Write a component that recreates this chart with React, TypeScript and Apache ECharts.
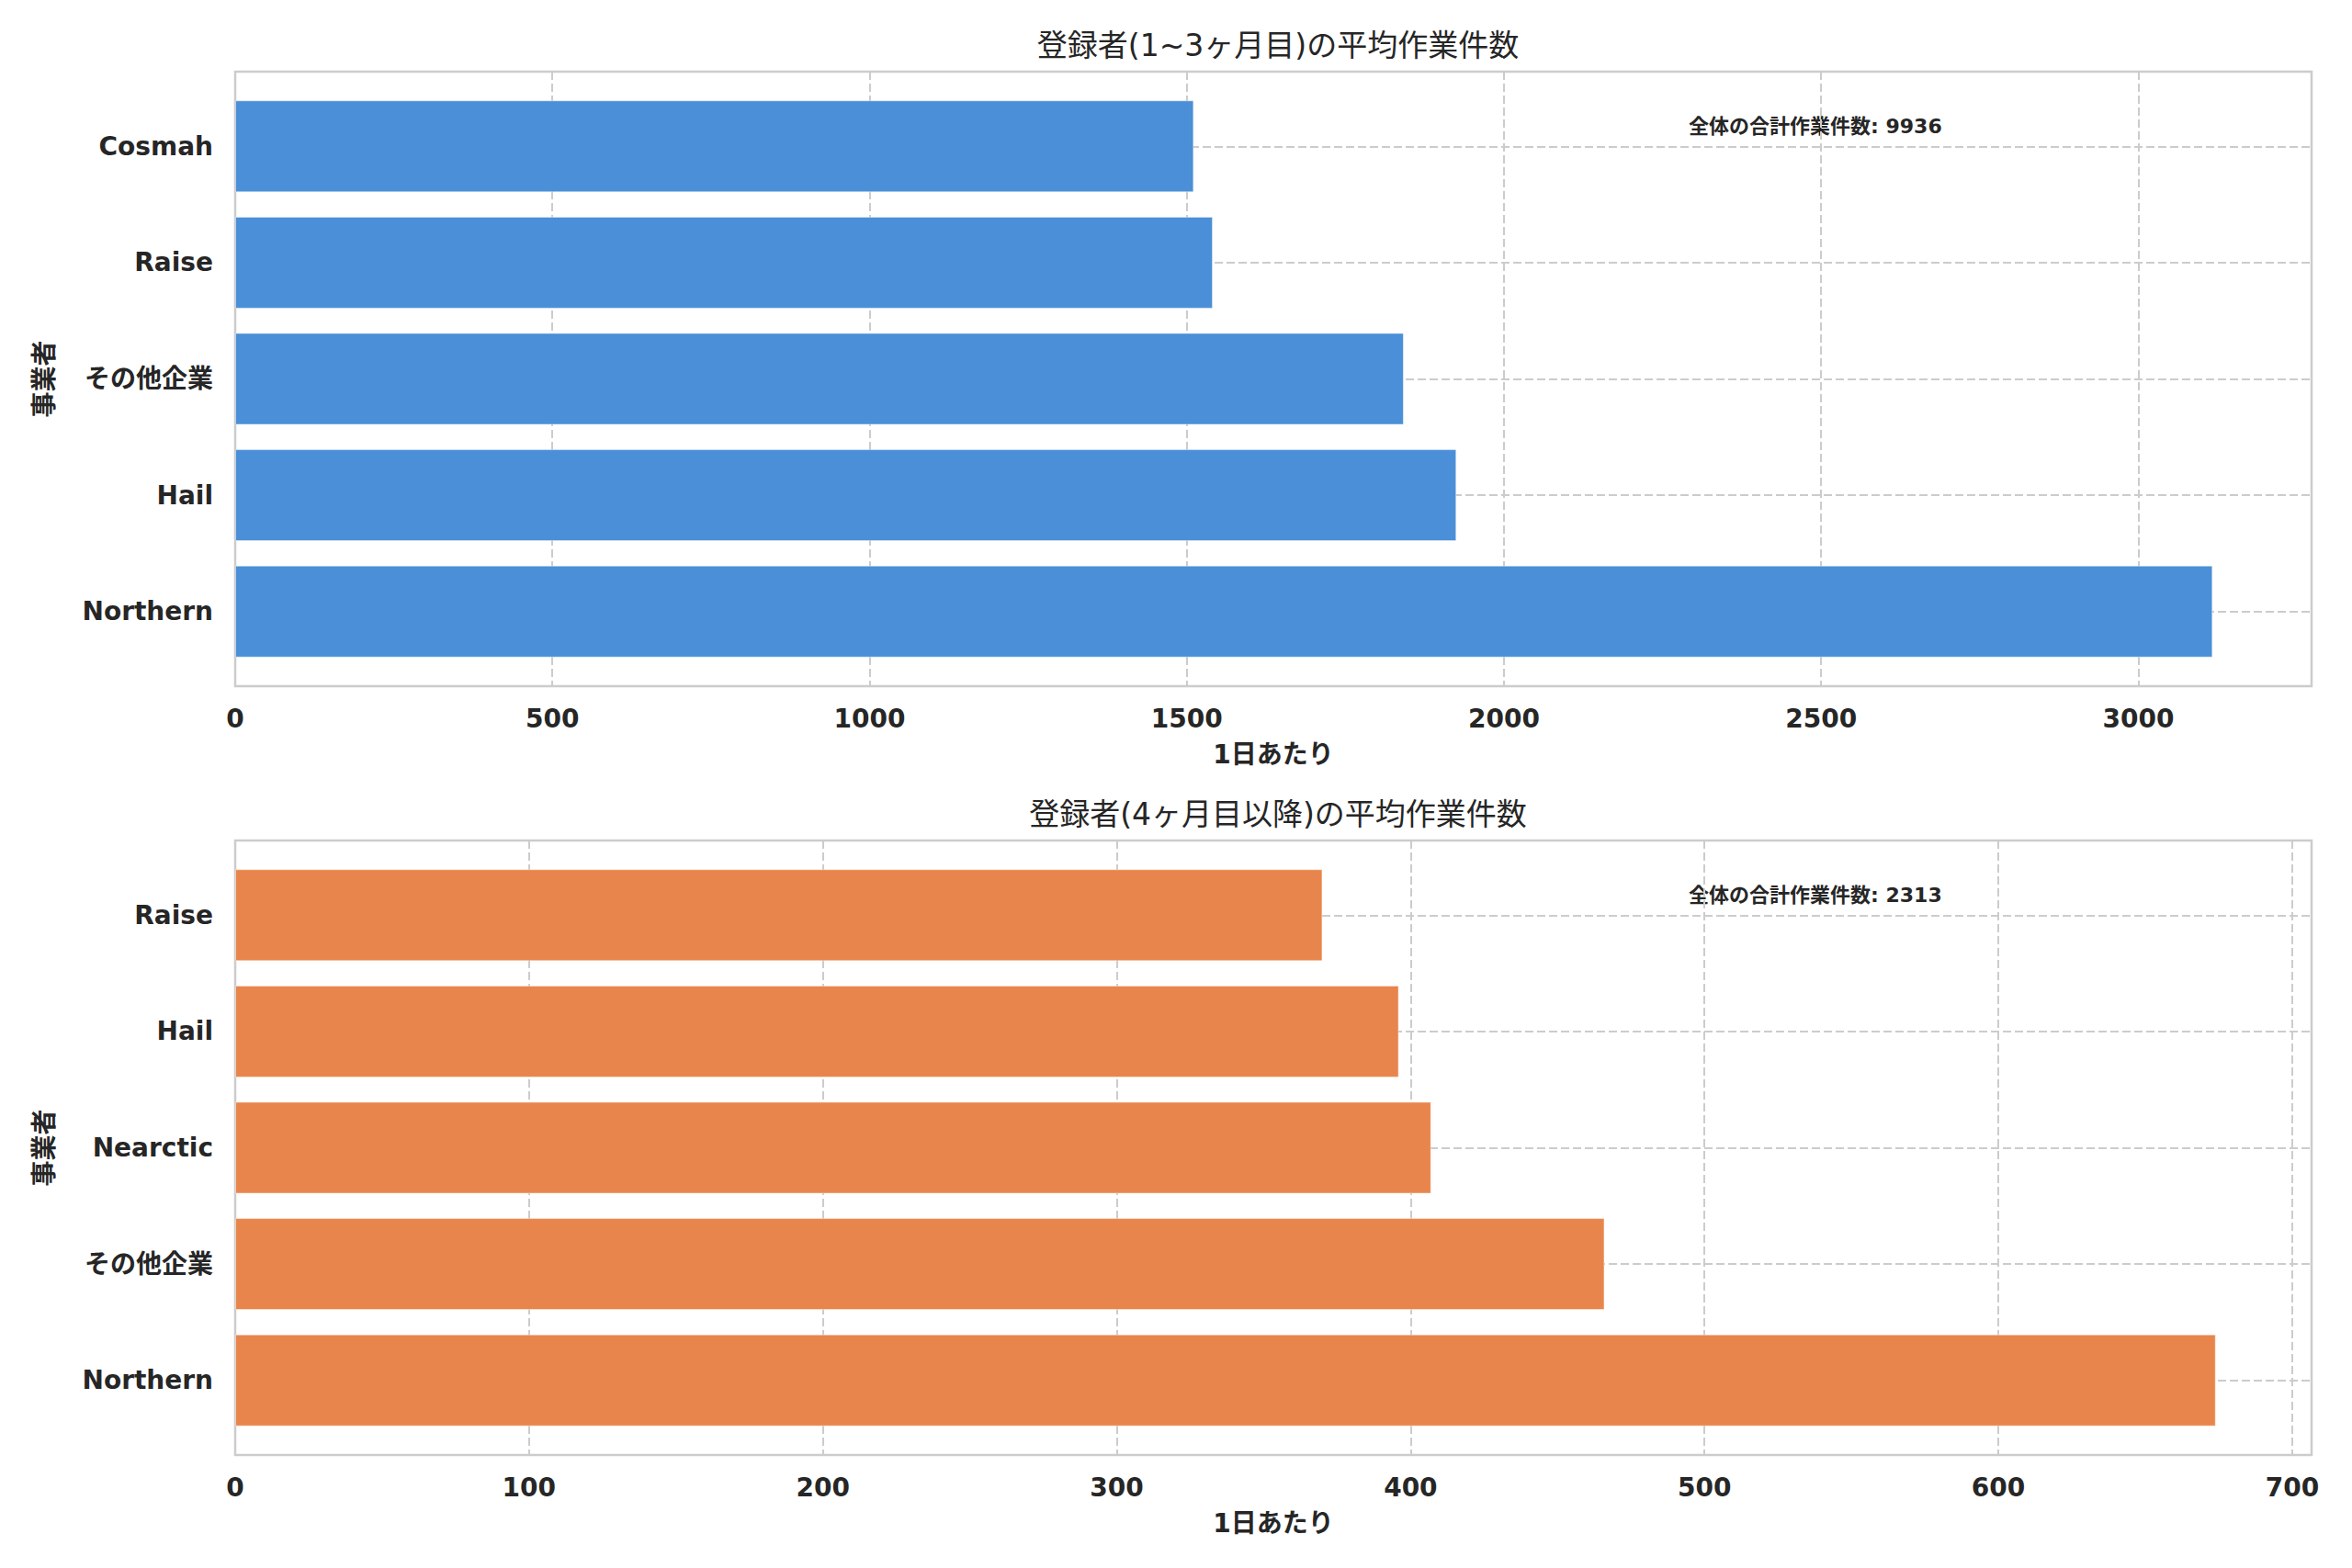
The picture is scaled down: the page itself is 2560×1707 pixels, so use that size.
import { useEffect, useRef } from 'react';
import * as echarts from 'echarts';

// top panel: first months
const earlyTitle = '登録者(1~3ヶ月目)の平均作業件数';
const earlyCategories = ['Northern', 'Hail', 'その他企業', 'Raise', 'Cosmah'];
const earlyValues = [3117, 1925, 1842, 1541, 1511];
const earlyTotal = 9936;
const earlyAxisMax = 3273;
const earlyTickStep = 500;

// bottom panel: month 4 onward
const lateTitle = '登録者(4ヶ月目以降)の平均作業件数';
const lateCategories = ['Northern', 'その他企業', 'Nearctic', 'Hail', 'Raise'];
const lateValues = [674, 466, 407, 396, 370];
const lateTotal = 2313;
const lateAxisMax = 706.6;
const lateTickStep = 100;

const xAxisName = '1日あたり';
const yAxisName = '事業者';
const totalLabel = '全体の合計作業件数';

const FONT = '"DejaVu Sans", "Noto Sans CJK JP", sans-serif';
const INK = '#262626';
const GRID_GRAY = '#cccccc';

const W = 2560;
const H = 1707;
const LEFT = 256;
const RIGHT = 44;
const FRAME_H = 669;
const INSET = 18;

type Panel = {
  title: string;
  categories: string[];
  values: number[];
  total: number;
  max: number;
  step: number;
  color: string;
  top: number;
};

const panels: Panel[] = [
  {
    title: earlyTitle,
    categories: earlyCategories,
    values: earlyValues,
    total: earlyTotal,
    max: earlyAxisMax,
    step: earlyTickStep,
    color: '#4a8fd7',
    top: 78,
  },
  {
    title: lateTitle,
    categories: lateCategories,
    values: lateValues,
    total: lateTotal,
    max: lateAxisMax,
    step: lateTickStep,
    color: '#e8854c',
    top: 915,
  },
];

function buildOption() {
  const grid: any[] = [];
  const xAxis: any[] = [];
  const yAxis: any[] = [];
  const series: any[] = [];
  const title: any[] = [];
  const graphic: any[] = [];

  panels.forEach((p, i) => {
    const outer = i * 2;
    const inner = i * 2 + 1;

    // outer grid: frame, x ticks, vertical dashed lines
    grid.push({
      left: LEFT,
      right: RIGHT,
      top: p.top,
      height: FRAME_H,
      show: true,
      borderColor: GRID_GRAY,
      borderWidth: 2.5,
      backgroundColor: 'transparent',
    });
    // inner grid: bars and category labels
    grid.push({
      left: LEFT,
      right: RIGHT,
      top: p.top + INSET,
      height: FRAME_H - INSET * 2,
    });

    xAxis.push({
      gridIndex: outer,
      type: 'value',
      min: 0,
      max: p.max,
      interval: p.step,
      axisLine: { show: false },
      axisTick: { show: false },
      axisLabel: {
        showMaxLabel: false,
        margin: 21,
        fontFamily: FONT,
        fontSize: 28,
        fontWeight: 'bold',
        color: INK,
        formatter: (v: number) => String(v),
      },
      splitLine: {
        show: true,
        lineStyle: { color: GRID_GRAY, width: 2, type: [9, 4] },
      },
      name: xAxisName,
      nameLocation: 'middle',
      nameGap: 60,
      nameMoveOverlap: false,
      nameTextStyle: {
        fontFamily: FONT,
        fontSize: 28,
        fontWeight: 'bold',
        color: INK,
      },
    });
    xAxis.push({
      gridIndex: inner,
      type: 'value',
      min: 0,
      max: p.max,
      show: false,
      splitLine: { show: false },
    });

    yAxis.push({
      gridIndex: outer,
      type: 'value',
      show: false,
      splitLine: { show: false },
    });
    yAxis.push({
      gridIndex: inner,
      type: 'category',
      data: p.categories,
      axisLine: { show: false },
      axisTick: { show: false },
      splitLine: { show: false },
      axisLabel: {
        margin: 24,
        fontFamily: FONT,
        fontSize: 28,
        fontWeight: 'bold',
        color: INK,
      },
      name: yAxisName,
      nameLocation: 'middle',
      nameRotate: 90,
      nameGap: 194,
      nameMoveOverlap: false,
      nameTextStyle: {
        fontFamily: FONT,
        fontSize: 28,
        fontWeight: 'bold',
        color: INK,
      },
    });

    series.push({
      type: 'bar',
      xAxisIndex: inner,
      yAxisIndex: inner,
      data: p.values,
      barWidth: '79%',
      itemStyle: {
        color: p.color,
        borderColor: 'rgba(255,255,255,0.45)',
        borderWidth: 1,
      },
      markLine: {
        z: 1,
        silent: true,
        symbol: 'none',
        label: { show: false },
        lineStyle: { color: GRID_GRAY, width: 2, type: [9, 4] },
        data: p.categories.map((c) => ({ yAxis: c })),
      },
    });

    title.push({
      text: p.title,
      left: LEFT + (W - LEFT - RIGHT) / 2,
      top: p.top - 50,
      textAlign: 'center',
      textStyle: {
        fontFamily: FONT,
        fontSize: 33,
        fontWeight: 'normal',
        color: INK,
      },
    });

    graphic.push({
      type: 'text',
      left: LEFT + 0.7 * (W - LEFT - RIGHT),
      top: p.top + 48,
      style: {
        text: `${totalLabel}: ${p.total}`,
        font: `bold 22px ${FONT}`,
        fill: INK,
      },
    });
  });

  return {
    animation: false,
    backgroundColor: '#ffffff',
    title,
    grid,
    xAxis,
    yAxis,
    series,
    graphic,
  };
}

export default function App() {
  const ref = useRef<HTMLDivElement>(null);

  useEffect(() => {
    if (!ref.current) return;
    document.body.style.margin = '0';
    const chart = echarts.init(ref.current, undefined, { renderer: 'svg' });
    chart.setOption(buildOption() as any);
    return () => chart.dispose();
  }, []);

  return (
    <div
      ref={ref}
      style={{ position: 'absolute', left: 0, top: 0, width: W, height: H, background: '#fff' }}
    />
  );
}
